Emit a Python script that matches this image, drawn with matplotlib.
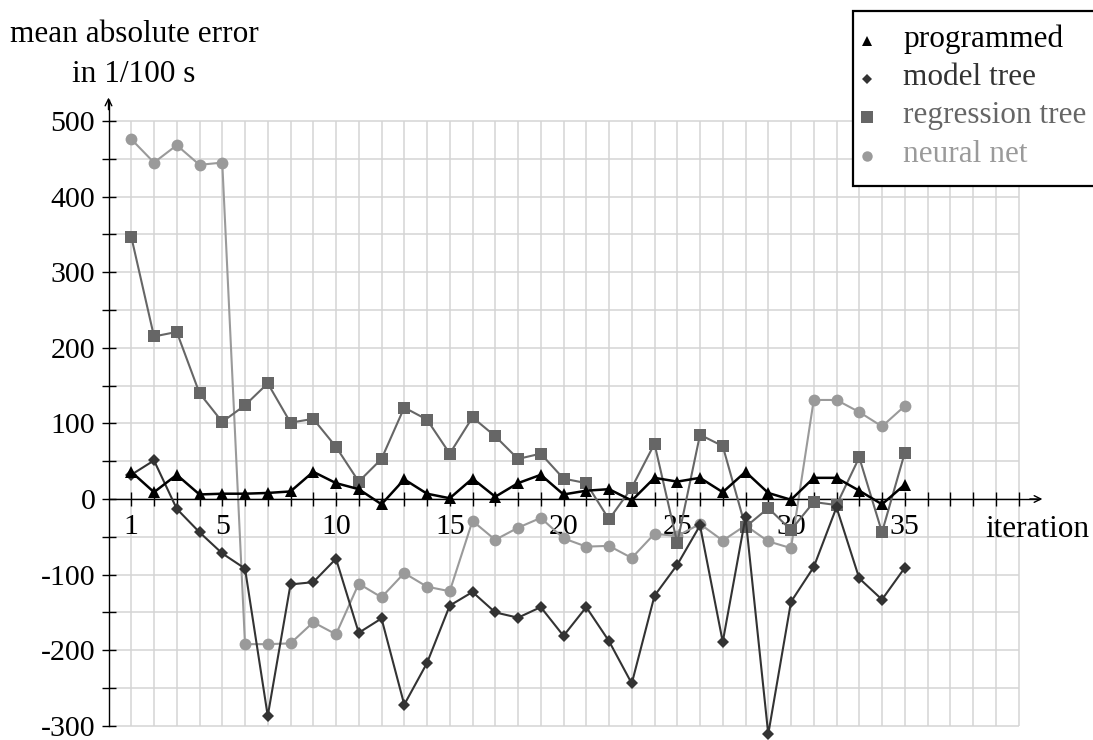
import matplotlib
matplotlib.use("Agg")
import matplotlib.pyplot as plt
from matplotlib.lines import Line2D
from matplotlib.patches import Rectangle
import numpy as np

iterations = list(range(1, 36))
programmed = [36, 9, 32, 6, 7, 7, 8, 10, 36, 21, 13, -7, 26, 7, 1,
              27, 3, 21, 32, 6, 11, 13, -2, 28, 23, 28, 9, 36, 8, -1,
              28, 28, 11, -7, 19]
model_tree = [32, 51, -13, -44, -72, -92, -287, -113, -110, -79, -177, -158, -272, -217, -141,
              -123, -150, -157, -143, -181, -143, -188, -244, -128, -87, -35, -189, -24, -311, -136,
              -90, -11, -105, -133, -91]
regression_tree = [347, 215, 221, 140, 102, 124, 153, 101, 106, 69, 23, 53, 121, 105, 60,
                   108, 83, 53, 60, 27, 21, -27, 15, 73, -58, 85, 70, -37, -12, -41,
                   -4, -8, 55, -44, 61]
neural_net = [476, 445, 468, 442, 445, -192, -192, -191, -163, -179, -112, -130, -98, -116, -122,
              -29, -54, -38, -25, -52, -63, -62, -78, -46, -49, -33, -55, -35, -56, -65,
              131, 131, 115, 96, 123]

series_names = ["programmed", "model tree", "regression tree", "neural net"]
x_tick_labels = [1, 5, 10, 15, 20, 25, 30, 35]
y_tick_labels = [500, 400, 300, 200, 100, 0, -100, -200, -300]

SERIF = ["Liberation Serif", "DejaVu Serif"]
plt.rcParams["font.family"] = SERIF

W, H = 1093, 740
fig = plt.figure(figsize=(W / 100, H / 100), dpi=100)

# pixel mapping: x=0 at px 108.5, 22.75 px/unit; y=0 at py 499, 0.756 px/unit
x0px, xs = 108.5, 22.75
y0px, ys = 499.0, 0.756
xlim = (0, 42)
ylim = (-315, 540)
left = x0px / W
width = (xlim[1] - xlim[0]) * xs / W
bot_py = y0px - ylim[0] * ys
top_py = y0px - ylim[1] * ys
ax = fig.add_axes([left, (H - bot_py) / H, width, (bot_py - top_py) / H])
ax.set_xlim(*xlim)
ax.set_ylim(*ylim)
ax.patch.set_alpha(0)

# grid
grid_c = "#d4d4d4"
xmax_grid = 40
ygrid = np.arange(-300, 501, 50)
xgrid = np.arange(1, xmax_grid + 1)
ax.hlines(ygrid, 0, xmax_grid, colors=grid_c, lw=1.1, zorder=0)
ax.vlines(xgrid, -300, 500, colors=grid_c, lw=1.1, zorder=0)

# spines as axes through origin
for s in ["top", "right"]:
    ax.spines[s].set_visible(False)
ax.spines["left"].set_position(("data", 0))
ax.spines["bottom"].set_position(("data", 0))
ax.spines["left"].set_bounds(-300, 528)
ax.spines["bottom"].set_bounds(0, 40.9)
for s in ["left", "bottom"]:
    ax.spines[s].set_linewidth(1.0)
    ax.spines[s].set_zorder(3)
ax.annotate("", xy=(41.05, 0), xytext=(40.5, 0),
            arrowprops=dict(arrowstyle="->", lw=1.0, color="black",
                            mutation_scale=12, shrinkA=0, shrinkB=0), zorder=3)
ax.annotate("", xy=(0, 531), xytext=(0, 515),
            arrowprops=dict(arrowstyle="->", lw=1.0, color="black",
                            mutation_scale=12, shrinkA=0, shrinkB=0), zorder=3)

ax.set_xticks(x_tick_labels)
ax.set_xticklabels([str(v) for v in x_tick_labels])
ax.set_xticks(xgrid, minor=True)
ax.set_yticks(y_tick_labels)
ax.set_yticklabels([str(v) for v in y_tick_labels])
ax.set_yticks(ygrid, minor=True)
ax.tick_params(axis="both", which="both", direction="inout", length=10, width=1.0,
               color="black")
ax.tick_params(axis="x", which="major", pad=6.0, labelsize=21.5)
ax.tick_params(axis="y", which="major", pad=4.5, labelsize=21.5)
for lab in ax.get_xticklabels() + ax.get_yticklabels():
    lab.set_family(SERIF)

colors = ["#000000", "#333333", "#666666", "#9a9a9a"]
markers = ["^", "D", "s", "o"]
msizes = [9, 6.3, 9, 8.5]
lws = [1.8, 1.5, 1.5, 1.5]
data = [programmed, model_tree, regression_tree, neural_net]
zorders = [6, 5, 4, 3]
for d, c, m, ms, lw, z in zip(data, colors, markers, msizes, lws, zorders):
    ax.plot(iterations, d, color=c, marker=m, markersize=ms, lw=lw,
            markeredgewidth=0, zorder=z, clip_on=False)

# x-axis label (same baseline as the x tick labels)
ax.text(38.55, -(537 - y0px) / ys, "iteration", fontsize=22.5, ha="left",
        va="baseline", transform=ax.transData)

# y-axis label (two centered lines)
fig.text(134 / W, 1 - 42 / H, "mean absolute error", fontsize=22.5,
         ha="center", va="baseline")
fig.text(134 / W, 1 - 82 / H, "in 1/100 s", fontsize=22.5,
         ha="center", va="baseline")

# legend box drawn manually
fig.patches.append(Rectangle((853 / W, 1 - 186 / H), (1110 - 853) / W, (186 - 11) / H,
                             transform=fig.transFigure, fill=True, facecolor="white",
                             edgecolor="black", lw=1.6, zorder=10))
leg_ms = [7.5, 5, 8, 7.5]
baselines = [46.5, 85, 123, 162]
for name, c, m, ms, b in zip(series_names, colors, markers, leg_ms, baselines):
    fig.add_artist(Line2D([867 / W], [1 - (b - 6) / H], transform=fig.transFigure,
                          marker=m, markersize=ms, color=c, markeredgewidth=0,
                          linestyle="none", zorder=11))
    fig.text(903 / W, 1 - b / H, name, fontsize=22.5, color=c,
             ha="left", va="baseline", zorder=11)

fig.savefig("out.png", dpi=100)
